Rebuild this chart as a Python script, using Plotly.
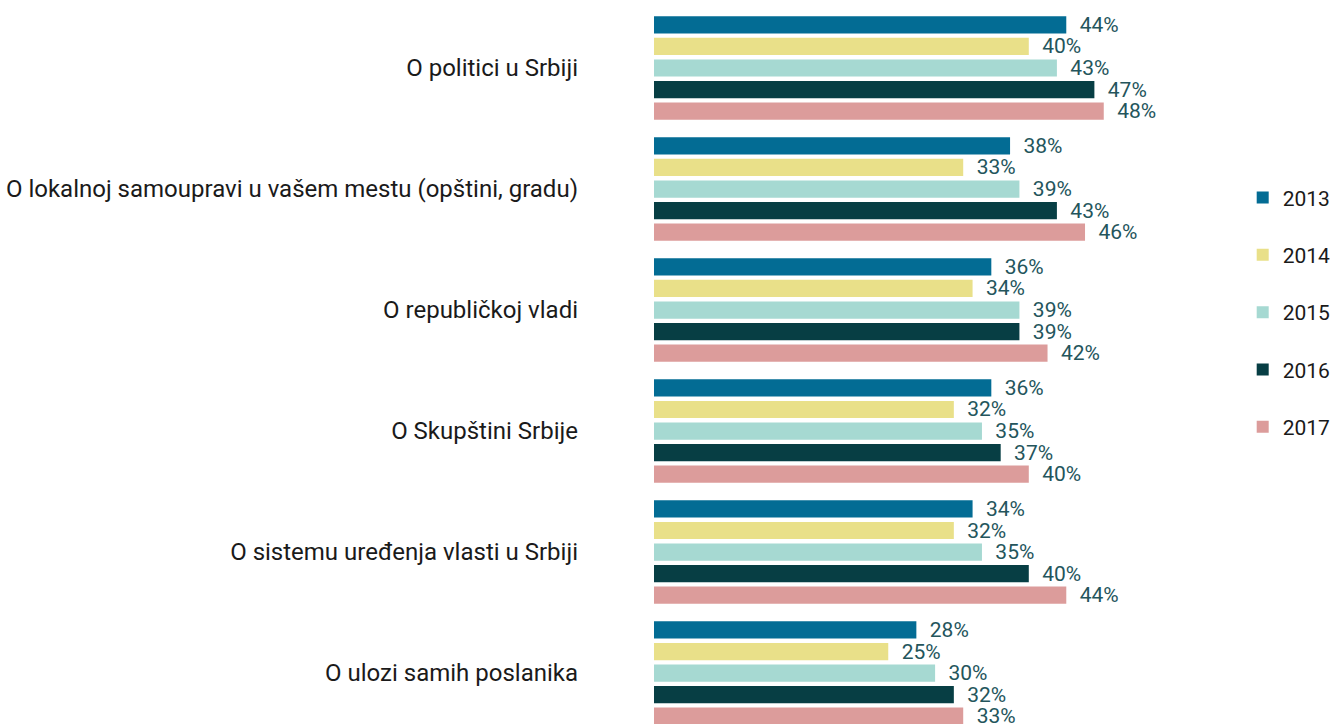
import plotly.graph_objects as go

categories = [
    "O politici u Srbiji",
    "O lokalnoj samoupravi u vašem mestu (opštini, gradu)",
    "O republičkoj vladi",
    "O Skupštini Srbije",
    "O sistemu uređenja vlasti u Srbiji",
    "O ulozi samih poslanika",
]
years = ["2013", "2014", "2015", "2016", "2017"]
values_2013 = [44, 38, 36, 36, 34, 28]
values_2014 = [40, 33, 34, 32, 32, 25]
values_2015 = [43, 39, 39, 35, 35, 30]
values_2016 = [47, 43, 39, 37, 40, 32]
values_2017 = [48, 46, 42, 40, 44, 33]
series = [values_2013, values_2014, values_2015, values_2016, values_2017]
colors = ["#036c94", "#e9e089", "#a6d9d2", "#073e44", "#dc9c9b"]

FONT = "Roboto"
fig = go.Figure()
for yr, vals, col in zip(years, series, colors):
    fig.add_trace(go.Bar(
        y=list(range(len(categories))), x=vals, orientation="h", name=yr,
        marker=dict(color=col, line=dict(width=0)),
        text=[f"  {v}%" for v in vals], textposition="outside",
        textfont=dict(family=FONT, size=21, color="#24555c"),
        cliponaxis=False, constraintext="none",
        legendgroup=yr,
    ))

fig.update_layout(
    width=1336, height=724,
    barmode="group", bargap=0.11, bargroupgap=0.2,
    plot_bgcolor="white", paper_bgcolor="white",
    margin=dict(l=654, r=100, t=0, b=0),
    font=dict(family=FONT, size=24, color="#1a1a1a"),
    showlegend=True,
    legend=dict(x=1.015, y=0.755, xanchor="left", yanchor="top",
                font=dict(family=FONT, size=21, color="#1a1a1a"),
                tracegroupgap=27, itemwidth=30),
    xaxis=dict(range=[0, 61.9], visible=False, fixedrange=True),
    yaxis=dict(range=[5.421, -0.562], tickmode="array",
               tickvals=list(range(len(categories))), ticktext=categories,
               showgrid=False, zeroline=False, showline=False,
               ticks="", ticklabelstandoff=75,
               tickfont=dict(family=FONT, size=24, color="#1a1a1a")),
)
fig.write_html(
    "out.html",
    config={"displayModeBar": False},
    post_script="document.body.style.margin='0';document.body.style.overflow='hidden';",
)
